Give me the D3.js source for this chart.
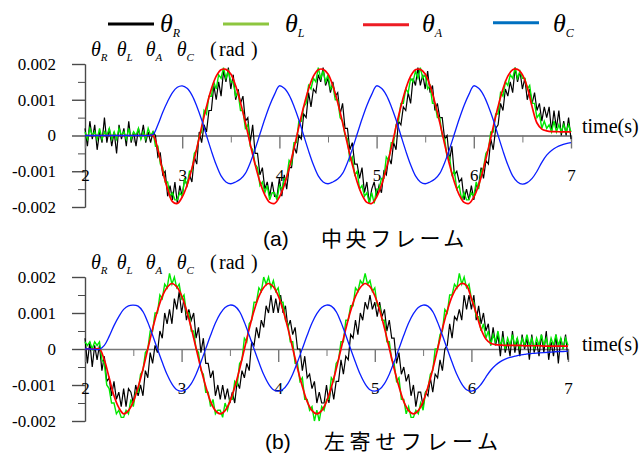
<!DOCTYPE html>
<html>
<head>
<meta charset="utf-8">
<script src="https://cdn.jsdelivr.net/npm/d3@7"></script>
<style>
  body { margin: 0; background: #fff; }
  svg { display: block; }
  .tick text { font-family: "Liberation Serif", "Times New Roman", serif; font-size: 17px; fill: #000; }
</style>
</head>
<body>
<div id="chart"></div>
<script>

// all angles are stored in units of 0.0001 rad
var UNIT = 1e-4;
var tStart = 2, tEnd = 7;
var stepSmooth = 0.05, stepNoisy = 0.025;

var xTicks = [2, 3, 4, 5, 6, 7];
var xMinorTicks = [2.5, 3.5, 4.5, 5.5, 6.5];
var yTicks = [-0.002, -0.001, 0, 0.001, 0.002];
var yMinorTicks = [-0.0015, -0.0005, 0.0005, 0.0015];
var seriesNames = ["R", "L", "A", "C"];
var captionTags = ["(a)", "(b)"];
var captionTexts = ["中央フレーム", "左寄せフレーム"];

// (a) centre frame, sampled every 0.025 s (noisy) or 0.05 s (smooth)
var thetaR_a = [2,-3,4,-1,3,-4,1,-2,5,-2,2,-3,1,-5,3,-1,2,-3,4,-2,1,-3,2,-1,3,-2,1,-2,1,
  0,-6,-5,-11,-10,-17,-14,-18,-13,-19,
  -14,-17,-12,-14,-11,-13,-6,-8,1,-2,3,1,7,7,14,10,15,11,18,15,19,13,17,10,13,9,11,4,5,-2,3,-5,-5,-11,-9,-15,-13,-17,-13,-17,
  -17,-12,-17,-11,-15,-9,-9,-3,-5,0,-1,6,5,12,8,13,12,17,15,19,14,16,12,15,11,12,6,9,2,2,-4,-2,-8,-8,-12,-9,-16,-13,-19,-15,
  -13,-17,-14,-16,-10,-11,-6,-8,-2,-4,4,3,8,7,12,9,16,14,19,14,17,13,18,12,14,7,9,5,5,-1,0,-7,-3,-11,-10,-13,-12,-18,-15,-18,
  -14,-18,-14,-14,-9,-12,-7,-8,-1,-4,2,3,9,7,13,11,15,12,19,15,18,
  13,16,10,13,9,12,7,9,4,8,5,8,1,7,2,7,0,4,0,5,-1];
var thetaL_a = [1,-1,2,0,1,-1,2,-1,1,0,2,-1,1,-1,2,0,1,-1,2,-1,1,0,2,-1,1,-1,2,0,
  1,-3,-3,-8,-9,-13,-13,-17,-16,-18,
  -18,-16,-17,-12,-14,-10,-10,-5,-4,0,1,7,6,11,11,15,13,17,16,19,16,18,15,15,11,12,7,7,2,3,-3,-4,-8,-9,-14,-13,-16,-14,-18,-16,
  -16,-18,-14,-15,-12,-12,-7,-8,-2,-2,4,4,8,9,14,13,16,15,19,16,18,15,17,13,14,10,10,5,4,0,-1,-7,-6,-11,-10,-15,-14,-17,-16,-19,
  -16,-19,-15,-15,-12,-12,-6,-7,-2,-2,3,4,9,9,13,12,16,15,18,16,19,16,17,13,14,9,9,5,5,0,-1,-6,-6,-11,-10,-15,-14,-18,-16,-18,
  -18,-16,-17,-13,-15,-10,-9,-5,-4,1,1,6,6,12,11,15,14,17,16,19,16,
  18,16,16,13,14,9,9,5,6,2,4,2,3,1,4,1,3,1,3,1,3,1];
var thetaA_a = [0,0,0,0,0,0,0,0,0,0,0,0,0,0,
  0,-4,-10,-15,-18.5,
  -19,-17.2,-13.9,-9.2,-3.6,2.4,8.1,13,16.6,18.4,18.5,17.2,13.9,9.2,3.6,-2.4,-8.1,-13,-16.6,-18.7,
  -19,-17.2,-13.9,-9.2,-3.6,2.4,8.1,13,16.6,18.4,18.5,17.2,13.9,9.2,3.6,-2.4,-8.1,-13,-16.6,-18.7,
  -19,-17.2,-13.9,-9.2,-3.6,2.4,8.1,13,16.6,18.4,18.5,17.2,13.9,9.2,3.6,-2.4,-8.1,-13,-16.6,-18.7,
  -19,-17.2,-13.9,-9.2,-3.6,2.4,8.1,13,16.6,18.4,18.5,
  17,13.5,8,3.5,1.8,1.3,1.1,1.1,1,1,1];
var thetaC_a = [0,0,0,0,0,0,0,0,0,0,0,0,0,0,
  0.3,3,6.5,9.5,12,13.5,
  13.9,13.2,11.3,8.2,4.4,0,-4.3,-8.2,-11.3,-13,-13.5,-13,-12.2,-10.6,-7.6,-3.8,0.4,4.6,8.4,11.5,
  13.9,13.2,11.3,8.2,4.4,0,-4.3,-8.2,-11.3,-13,-13.5,-13,-12.2,-10.6,-7.6,-3.8,0.4,4.6,8.4,11.5,
  13.9,13.2,11.3,8.2,4.4,0,-4.3,-8.2,-11.3,-13,-13.5,-13,-12.2,-10.6,-7.6,-3.8,0.4,4.6,8.4,11.5,
  13.9,13.2,11.3,8.2,4.4,0,-4.3,-8.2,-11.3,-13,
  -13.6,-13.2,-12,-10,-7.5,-5.5,-4.2,-3.3,-2.7,-2.3,-2];

// (b) left-shifted frame
var thetaR_b = [3,-4,2,-5,1,-3,
  1,-6,-2,-9,-8,-13,-9,-14,-12,-16,-11,-16,-11,
  -12,-15,-10,-13,-10,-13,-6,-8,-1,-4,1,-1,5,3,10,7,11,7,14,11,16,10,14,8,11,8,10,3,6,-1,3,-4,-4,-8,-6,-13,-10,-14,-10,-14,
  -11,-15,-12,-15,-9,-11,-6,-8,-4,-6,2,1,6,3,8,6,12,10,15,10,14,10,15,10,12,6,8,4,6,0,0,-6,-2,-8,-7,-11,-9,-15,-12,-15,
  -15,-10,-15,-10,-14,-9,-9,-3,-7,-2,-3,4,3,8,4,10,8,13,11,15,11,13,9,13,9,11,5,8,3,3,-4,-1,-7,-5,-9,-7,-13,-10,-16,-12,
  -12,-16,-12,-13,-8,-12,-7,-8,-3,-6,0,1,7,3,9,8,11,8,15,11,15,
  11,15,8,12,7,10,5,7,1,6,1,4,-2,5,-1,2,-2,5,-1,3,-2,4,0,3,-3,4,-1,2,-2,4,-1,5,-3,2,-2,4,-4,3,0,4,-3];
var thetaL_b = [2,1,2,0,2,1,
  2,-3,-4,-10,-11,-15,-15,-18,-17,-19,
  -19,-17,-18,-14,-16,-12,-12,-7,-6,-1,0,5,5,10,10,15,14,18,17,21,18,20,17,18,14,15,10,10,5,5,0,-1,-6,-7,-12,-12,-16,-14,-18,-17,
  -17,-19,-15,-17,-14,-14,-9,-10,-4,-3,3,2,7,8,13,13,17,16,20,18,20,17,19,16,17,13,13,8,7,2,2,-4,-4,-9,-8,-14,-14,-17,-16,-20,
  -17,-20,-16,-17,-14,-14,-8,-9,-4,-3,2,2,8,8,12,12,17,16,19,18,21,18,19,16,17,12,12,8,8,2,2,-3,-4,-9,-8,-14,-14,-18,-16,-19,
  -19,-17,-18,-15,-17,-12,-11,-7,-6,0,0,4,5,11,10,15,15,18,17,21,18,
  20,17,18,14,13,9,9,5,7,3,5,1,4,2,5,1,3,0,3,1,4,1,3,0,3,1,4,1,3,0,3,1,4,1,3,0,3,1,4,1,3,0,3,1];
var thetaA_b = [0,0,0,0,
  -3,-8,-13,-16.3,
  -18,-17.1,-14.6,-10.6,-5.6,0,5.6,10.6,14.6,17.1,18.2,17.3,14.8,10.8,5.8,0.2,-5.4,-10.4,-14.6,-17.1,
  -18,-17.1,-14.6,-10.6,-5.6,0,5.6,10.6,14.6,17.1,18.2,17.3,14.8,10.8,5.8,0.2,-5.4,-10.4,-14.6,-17.1,
  -18,-17.1,-14.6,-10.6,-5.6,0,5.6,10.6,14.6,17.1,18.2,17.3,14.8,10.8,5.8,0.2,-5.4,-10.4,-14.6,-17.1,
  -18,-17.1,-14.6,-10.6,-5.6,0,5.6,10.6,14.6,17.1,
  18.2,17.6,14,10,5.5,2.8,1.6,1.2,
  1.1,1,1,1,1,0.9,0.9,0.9,0.9,0.8,0.8,0.8,0.8,0.8,0.8];
var thetaC_b = [0,0,-0.1,-0.1,
  1,3.5,6.5,9,11,12,
  12.2,11.9,10.4,7.4,3.8,0,-3.7,-7.1,-9.7,-11.3,-11.7,-11.2,-9.6,-7,-3.6,0.1,3.8,7.2,9.8,11.5,
  12.2,11.9,10.4,7.4,3.8,0,-3.7,-7.1,-9.7,-11.3,-11.7,-11.2,-9.6,-7,-3.6,0.1,3.8,7.2,9.8,11.5,
  12.2,11.9,10.4,7.4,3.8,0,-3.7,-7.1,-9.7,-11.3,-11.7,-11.2,-9.6,-7,-3.6,0.1,3.8,7.2,9.8,11.5,
  12.2,11.9,10.4,7.4,3.8,0,-3.7,-7.1,-9.7,-11.3,
  -11.7,-11.2,-9.8,-7.8,-5.9,-4.5,-3.5,-2.8,-2.3,-2,-1.7,-1.5,-1.3,-1.2,-1.1,-1,-0.9,-0.8,-0.7,-0.7,-0.6];

var width = 644, height = 455;
var serif = "'Liberation Serif', 'Times New Roman', serif";

var lineColors = ["#000000", "#00e800", "#ff0000", "#0a1eff"];
var lineWidths = [1.2, 1.4, 1.7, 1.3];
var legendColors = ["#000000", "#8dc63f", "#ed1c24", "#0070c0"];

var svg = d3.select("#chart").append("svg")
    .attr("width", width)
    .attr("height", height);

//panel frames (left/right in px for t=2..7, top/bottom for +-0.002)
var panels = [
  {left: 85, right: 571, top: 64, bottom: 207, noisy: [thetaR_a, thetaL_a], smooth: [thetaA_a, thetaC_a],
   timeDy: -3, capY: 246, tagX: 263, capX: 321, capSpacing: 3.6},
  {left: 85, right: 568, top: 277, bottom: 421, noisy: [thetaR_b, thetaL_b], smooth: [thetaA_b, thetaC_b],
   timeDy: 2, capY: 449, tagX: 265, capX: 324, capSpacing: 4.6}
];

function toPoints(values, step) {
  return values.map(function(v, i) { return [tStart + i * step, v * UNIT]; });
}

function yFormat(d) { return d === 0 ? "0" : d.toFixed(3); }

panels.forEach(function(p, pi) {
  var x = d3.scaleLinear().domain([tStart, tEnd]).range([p.left, p.right]);
  var y = d3.scaleLinear().domain([-0.002, 0.002]).range([p.bottom, p.top]);
  var g = svg.append("g");

  // y axis, minor then major ticks
  g.append("g")
    .attr("transform", "translate(" + p.left + ",0)")
    .attr("color", "#4a4a4a")
    .call(d3.axisLeft(y).tickValues(yMinorTicks).tickSize(7).tickSizeOuter(0).tickFormat(""));
  var yAxis = g.append("g")
    .attr("transform", "translate(" + p.left + ",0)")
    .attr("color", "#4a4a4a")
    .call(d3.axisLeft(y).tickValues(yTicks).tickSize(13).tickSizeOuter(0).tickPadding(16).tickFormat(yFormat));
  yAxis.selectAll("path, line").attr("stroke-width", 1.4);

  // x axis along zero
  g.append("g")
    .attr("transform", "translate(0," + y(0) + ")")
    .attr("color", "#777")
    .call(d3.axisBottom(x).tickValues(xMinorTicks).tickSize(7).tickSizeOuter(0).tickFormat(""));
  var xAxis = g.append("g")
    .attr("transform", "translate(0," + y(0) + ")")
    .attr("color", "#777")
    .call(d3.axisBottom(x).tickValues(xTicks).tickSize(13).tickSizeOuter(0).tickPadding(20).tickFormat(d3.format("d")));
  xAxis.selectAll("path, line").attr("stroke-width", 1.4);

  var line = d3.line()
    .x(function(d) { return x(d[0]); })
    .y(function(d) { return y(d[1]); });
  var smoothLine = d3.line()
    .curve(d3.curveCatmullRom)
    .x(function(d) { return x(d[0]); })
    .y(function(d) { return y(d[1]); });

  p.noisy.forEach(function(vals, i) {
    g.append("path")
      .attr("d", line(toPoints(vals, stepNoisy)))
      .attr("fill", "none")
      .attr("stroke", lineColors[i])
      .attr("stroke-width", lineWidths[i]);
  });
  p.smooth.forEach(function(vals, i) {
    g.append("path")
      .attr("d", smoothLine(toPoints(vals, stepSmooth)))
      .attr("fill", "none")
      .attr("stroke", lineColors[i + 2])
      .attr("stroke-width", lineWidths[i + 2]);
  });

  // axis title: thetas + (rad)
  var labelX = [91, 116.7, 145.7, 176.7];
  seriesNames.forEach(function(s, i) {
    var t = g.append("text")
      .attr("x", labelX[i])
      .attr("y", p.top - 8)
      .attr("font-family", serif)
      .attr("font-style", "italic")
      .attr("font-size", 20);
    t.append("tspan").text("θ");
    t.append("tspan").attr("font-size", 11).attr("dy", 5).text(s);
  });
  var rad = g.append("text")
    .attr("y", p.top - 8)
    .attr("font-family", serif)
    .attr("font-size", 20);
  rad.append("tspan").attr("x", 210).text("(");
  rad.append("tspan").attr("x", 219).text("rad");
  rad.append("tspan").attr("x", 251).text(")");

  g.append("text")
    .attr("x", 582)
    .attr("y", y(0) + p.timeDy)
    .attr("font-family", serif)
    .attr("font-size", 20)
    .text("time(s)");

  // caption
  g.append("text")
    .attr("x", p.tagX)
    .attr("y", p.capY)
    .attr("font-family", "'Liberation Sans', Arial, sans-serif")
    .attr("font-size", 21)
    .text(captionTags[pi]);
  g.append("text")
    .attr("x", p.capX)
    .attr("y", p.capY)
    .attr("font-family", "'Noto Sans CJK JP', sans-serif")
    .attr("font-size", 21)
    .attr("letter-spacing", p.capSpacing)
    .text(captionTexts[pi]);
});

//legend
var legendLineX = [108, 223, 363, 493];
var legendTextX = [160, 285, 422, 553];
var legendY = [24, 24, 24.7, 22.7];
var legend = svg.append("g").attr("class", "legend");
seriesNames.forEach(function(s, i) {
  legend.append("line")
    .attr("x1", legendLineX[i])
    .attr("x2", legendLineX[i] + 46)
    .attr("y1", legendY[i])
    .attr("y2", legendY[i])
    .attr("stroke", legendColors[i])
    .attr("stroke-width", 3);
  var t = legend.append("text")
    .attr("x", legendTextX[i])
    .attr("y", 32)
    .attr("font-family", serif)
    .attr("font-style", "italic")
    .attr("font-size", 26);
  t.append("tspan").text("θ");
  t.append("tspan").attr("font-size", 12).attr("dy", 5).text(s);
});

</script>
</body>
</html>
